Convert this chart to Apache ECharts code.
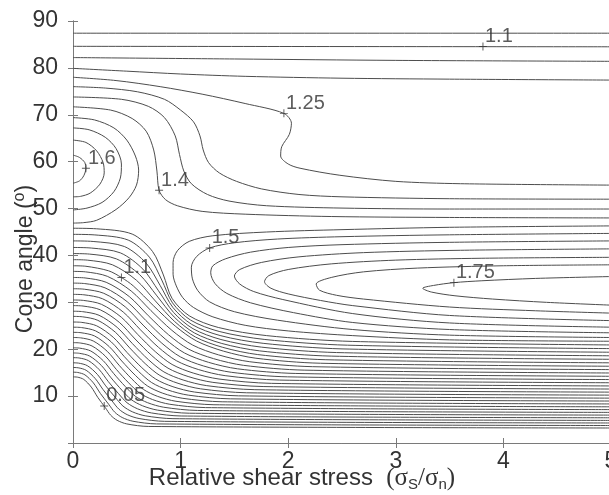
<!DOCTYPE html>
<html>
<head>
<meta charset="utf-8">
<script src="https://cdn.jsdelivr.net/npm/echarts@6/dist/echarts.min.js"></script>
<style>
  html, body { margin: 0; padding: 0; background: #fff; }
  #chart { width: 609px; height: 495px; }
</style>
</head>
<body>
<div id="chart"></div>
<script>
// Axis ticks
const xTicks = [0, 1, 2, 3, 4, 5];
const yTicks = [0, 10, 20, 30, 40, 50, 60, 70, 80, 90];

// Contours that cross the upper part of the field, from the left edge to the right edge
const upperLevels = [1.05, 1.1, 1.15, 1.2, 1.25, 1.3, 1.35, 1.4];
const upperPaths = [
  [[0,87.4],[5,87.4]],
  [[0,84.6],[5,84.5]],
  [[0,82.2],[1.5,81.9],[3,81.6],[5,81.4]],
  [[0,79.9],[0.5,79.3],[1,78.7],[1.6,78.2],[2.5,77.8],[3.5,77.6],[5,77.4]],
  [[0,78.0],[0.4,77.3],[0.81,76.0],[1.2,74.4],[1.6,72.4],[1.96,70.3],[2.03,68.2],[2.01,65.8],[1.94,63.2],[1.93,61.2],[2.0,59.5],[2.11,58.6],[2.48,57.1],[3.0,55.8],[3.6,55.3],[5,55.0]],
  [[0,76.0],[0.3,75.7],[0.6,74.9],[0.85,73.3],[1.0,71.0],[1.12,68.5],[1.18,65.5],[1.21,62.5],[1.26,59.8],[1.36,57.6],[1.52,55.8],[1.75,54.2],[2.1,53.0],[2.5,52.5],[3.5,52.1],[5,52.0]],
  [[0,73.8],[0.45,73.3],[0.7,71.8],[0.85,69.4],[0.95,65.5],[0.99,61.5],[1.03,58],[1.1,55.3],[1.25,53],[1.45,51.6],[1.8,50.6],[2.5,50.1],[3.5,49.9],[5,49.9]],
  [[0,71.7],[0.35,71.0],[0.55,69.2],[0.68,66.5],[0.75,62.5],[0.78,58],[0.80,53.9],[0.86,51.9],[0.97,50.6],[1.2,49.4],[1.6,48.8],[2.4,48.3],[3.5,48.1],[5,48.0]]
];

// Closed contours around the maximum on the left edge (cone angle near 58)
const leftPeakLevels = [1.45, 1.5, 1.55, 1.6];
const leftPeakPaths = [
  [[0,69.4],[0.2,68.9],[0.38,67.2],[0.5,64.6],[0.58,61.2],[0.61,58.2],[0.59,55],[0.52,52.3],[0.4,49.8],[0.22,47.5],[0.1,47.0],[0,46.9]],
  [[0,67.2],[0.15,66.8],[0.3,65.2],[0.4,62.8],[0.45,59.5],[0.44,56.5],[0.38,53.6],[0.27,51.3],[0.13,50.1],[0,49.7]],
  [[0,64.6],[0.12,64.1],[0.22,62.3],[0.28,59.8],[0.29,57.6],[0.25,55.2],[0.16,53.3],[0.07,52.6],[0,52.5]],
  [[0,61.4],[0.06,60.9],[0.11,59.8],[0.12,58.6],[0.1,57.0],[0.06,55.9],[0,55.4]]
];

// Open loops around the maximum near cone angle 33 at high shear stress
const rightPeakLevels = [1.45, 1.5, 1.55, 1.6, 1.65, 1.7, 1.75];
const rightPeakPaths = [
  [[5,46.3],[3.5,46.0],[2.5,45.5],[1.8,45.0],[1.3,44.2],[1.08,43.0],[0.97,41],[0.93,38.5],[0.93,36],[0.96,33.5],[1.02,31],[1.12,28.9],[1.3,26.9],[1.6,25.1],[2.0,23.9],[2.6,22.9],[3.5,22.0],[5,21.7]],
  [[5,44.7],[3.5,44.4],[2.5,44.0],[1.9,43.5],[1.5,42.7],[1.27,41.6],[1.15,39.8],[1.1,37.5],[1.11,35],[1.16,32.5],[1.27,30.1],[1.5,28],[1.9,26.2],[2.6,24.2],[3.5,23.0],[5,22.5]],
  [[5,43.1],[3.5,42.8],[2.5,42.3],[2.0,41.7],[1.65,40.7],[1.42,39.3],[1.3,37.8],[1.28,36.3],[1.32,34],[1.43,31.9],[1.65,29.9],[2.05,27.8],[2.6,25.7],[3.5,24.2],[5,23.5]],
  [[5,41.4],[3.6,41.1],[2.7,40.6],[2.1,39.7],[1.75,38.5],[1.55,37.0],[1.5,35.6],[1.55,33.9],[1.68,32.3],[1.95,30.6],[2.6,27.6],[3.5,25.6],[5,24.7]],
  [[5,39.6],[3.8,39.4],[3.0,39.0],[2.4,38.2],[2.0,37.0],[1.82,35.7],[1.78,34.4],[1.84,33],[2.0,31.8],[2.3,30.4],[2.6,29.3],[3.5,27.2],[5,26.1]],
  [[5,38.0],[4.0,37.8],[3.2,37.3],[2.7,36.5],[2.4,35.3],[2.26,33.9],[2.29,32.6],[2.45,31.5],[2.7,30.7],[3.5,29.0],[4.3,28.2],[5,27.7]],
  [[5,35.5],[4.3,35.1],[3.8,34.6],[3.54,34.2],[3.35,33.6],[3.25,33.0],[3.33,32.2],[3.55,31.4],[3.9,30.7],[4.4,30.0],[5,29.4]]
];

// Dense family in the lower part: from the left edge down to the right edge
const lowerLevels = [0.05,0.1,0.15,0.2,0.25,0.3,0.35,0.4,0.45,0.5,0.55,0.6,0.65,0.7,
                     0.75,0.8,0.85,0.9,0.95,1.0,1.05,1.1,1.15,1.2,1.25,1.3,1.35,1.4];
const lowerPaths = [
  [[0,14.1],[0.04,14.05],[0.10,13.56],[0.17,11.92],[0.23,9.74],[0.30,7.56],[0.35,5.93],[0.41,4.84],[0.50,4.07],[0.70,3.53],[5,3.2]],
  [[0,15.1],[0.044,15.04],[0.111,14.53],[0.189,12.83],[0.255,10.55],[0.331,8.28],[0.388,6.57],[0.457,5.44],[0.557,4.64],[0.776,4.07],[5,3.73]],
  [[0,16.1],[0.048,16.04],[0.122,15.51],[0.207,13.73],[0.28,11.37],[0.362,9.0],[0.426,7.23],[0.504,6.04],[0.614,5.22],[0.852,4.62],[5,4.27]],
  [[0,17.1],[0.051,17.04],[0.133,16.49],[0.226,14.64],[0.304,12.19],[0.393,9.73],[0.464,7.89],[0.551,6.66],[0.671,5.8],[0.929,5.19],[5,4.82]],
  [[0,18.2],[0.055,18.14],[0.144,17.56],[0.244,15.64],[0.329,13.07],[0.424,10.51],[0.502,8.59],[0.599,7.3],[0.729,6.41],[1.005,5.76],[5,5.38]],
  [[0,19.2],[0.059,19.13],[0.155,18.54],[0.263,16.55],[0.354,13.9],[0.455,11.25],[0.541,9.26],[0.646,7.94],[0.786,7.01],[1.081,6.35],[5,5.95]],
  [[0,20.3],[0.063,20.23],[0.166,19.61],[0.281,17.55],[0.379,14.79],[0.486,12.04],[0.579,9.97],[0.693,8.6],[0.843,7.63],[1.157,6.94],[5,6.53]],
  [[0,21.4],[0.067,21.33],[0.177,20.69],[0.3,18.54],[0.403,15.69],[0.517,12.83],[0.617,10.69],[0.74,9.26],[0.9,8.26],[1.233,7.55],[5,7.12]],
  [[0,22.5],[0.07,22.43],[0.188,21.76],[0.319,19.54],[0.428,16.59],[0.548,13.63],[0.655,11.42],[0.787,9.94],[0.957,8.9],[1.31,8.16],[5,7.72]],
  [[0,23.6],[0.074,23.52],[0.199,22.84],[0.337,20.55],[0.453,17.49],[0.579,14.44],[0.693,12.15],[0.834,10.62],[1.014,9.55],[1.386,8.79],[5,8.33]],
  [[0,24.7],[0.078,24.62],[0.21,23.91],[0.356,21.55],[0.478,18.4],[0.61,15.25],[0.731,12.89],[0.881,11.31],[1.071,10.21],[1.462,9.42],[5,8.95]],
  [[0,25.8],[0.082,25.72],[0.22,24.99],[0.374,22.55],[0.502,19.31],[0.64,16.06],[0.769,13.63],[0.929,12.0],[1.129,10.87],[1.538,10.06],[5,9.57]],
  [[0,27.0],[0.086,26.92],[0.231,26.16],[0.393,23.64],[0.527,20.28],[0.671,16.93],[0.807,14.41],[0.976,12.73],[1.186,11.55],[1.614,10.71],[5,10.21]],
  [[0,28.1],[0.09,28.01],[0.242,27.24],[0.411,24.65],[0.552,21.2],[0.702,17.75],[0.845,15.16],[1.023,13.44],[1.243,12.23],[1.69,11.37],[5,10.85]],
  [[0,29.3],[0.093,29.21],[0.253,28.41],[0.43,25.74],[0.577,22.18],[0.733,18.63],[0.883,15.96],[1.07,14.18],[1.3,12.93],[1.767,12.04],[5,11.51]],
  [[0,30.5],[0.097,30.41],[0.264,29.58],[0.449,26.83],[0.601,23.17],[0.764,19.5],[0.921,16.75],[1.117,14.92],[1.357,13.64],[1.843,12.72],[5,12.17]],
  [[0,31.7],[0.101,31.61],[0.275,30.76],[0.467,27.93],[0.626,24.16],[0.795,20.39],[0.96,17.56],[1.164,15.68],[1.414,14.36],[1.919,13.42],[5,12.85]],
  [[0,32.9],[0.105,32.8],[0.286,31.93],[0.486,29.03],[0.651,25.15],[0.826,21.28],[0.998,18.37],[1.211,16.44],[1.471,15.08],[1.995,14.11],[5,13.53]],
  [[0,34.1],[0.109,34.0],[0.297,33.1],[0.504,30.13],[0.676,26.15],[0.857,22.18],[1.036,19.2],[1.259,17.21],[1.529,15.82],[2.071,14.83],[5,14.23]],
  [[0,35.3],[0.112,35.2],[0.308,34.28],[0.523,31.23],[0.7,27.15],[0.888,23.08],[1.074,20.02],[1.306,17.99],[1.586,16.56],[2.148,15.54],[5,14.93]],
  [[0,36.6],[0.116,36.5],[0.319,35.55],[0.541,32.41],[0.725,28.22],[0.919,24.03],[1.112,20.89],[1.353,18.79],[1.643,17.33],[2.224,16.28],[5,15.65]],
  [[0,37.8],[0.12,37.69],[0.33,36.73],[0.45,35.3],[0.56,33.51],[0.75,29.23],[0.95,24.94],[1.15,21.73],[1.4,19.58],[1.7,18.08],[2.3,17.01],[5,16.37]],
  [[0,39.1],[0.137,38.99],[0.367,38.0],[0.59,34.7],[0.765,30.3],[0.945,25.9],[1.138,22.6],[1.392,20.4],[1.717,18.86],[2.35,17.76],[5,17.1]],
  [[0,40.4],[0.153,40.29],[0.403,39.27],[0.62,35.89],[0.78,31.38],[0.94,26.87],[1.127,23.49],[1.383,21.23],[1.733,19.65],[2.4,18.53],[5,17.85]],
  [[0,41.7],[0.17,41.58],[0.44,40.55],[0.65,37.08],[0.795,32.46],[0.935,27.84],[1.115,24.38],[1.375,22.07],[1.75,20.45],[2.45,19.29],[5,18.6]],
  [[0,43.1],[0.187,42.98],[0.477,41.91],[0.68,38.35],[0.81,33.6],[0.93,28.86],[1.103,25.3],[1.367,22.92],[1.767,21.26],[2.5,20.07],[5,19.36]],
  [[0,44.5],[0.203,44.38],[0.513,43.28],[0.71,39.63],[0.825,34.75],[0.925,29.88],[1.092,26.22],[1.358,23.79],[1.783,22.08],[2.55,20.86],[5,20.13]],
  [[0,45.8],[0.22,45.68],[0.55,44.56],[0.74,40.82],[0.84,35.84],[0.92,30.87],[1.08,27.13],[1.35,24.64],[1.8,22.9],[2.6,21.66],[5,20.91]]
];

// Inline contour labels: text and the point on the contour it marks
const labelText = ['1.1', '1.25', '1.6', '1.4', '1.5', '1.1', '1.75', '0.05'];
const labelX    = [3.81, 1.96, 0.12, 0.80, 1.27, 0.45, 3.54, 0.29];
const labelY    = [84.55, 70.3, 58.6, 53.9, 41.6, 35.3, 34.2, 7.9];

const FONT = 'Liberation Sans';
const SERIF = 'Liberation Serif';
const TEXT = '#333';
const AXIS = '#7a7a7a';
const LINE = '#4d4d4d';

function contourSeries(paths, levels, tag) {
  return paths.map((path, i) => ({
    type: 'line',
    name: tag + levels[i],
    data: path,
    smooth: 0.3,
    symbol: 'none',
    silent: true,
    clip: true,
    lineStyle: { color: LINE, width: 1 },
    z: 2
  }));
}

const series = []
  .concat(contourSeries(upperPaths, upperLevels, 'u'))
  .concat(contourSeries(leftPeakPaths, leftPeakLevels, 'l'))
  .concat(contourSeries(rightPeakPaths, rightPeakLevels, 'r'))
  .concat(contourSeries(lowerPaths, lowerLevels, 'd'));

// '+' marks with the level text to their upper right
series.push({
  type: 'scatter',
  name: 'labels',
  silent: true,
  symbol: 'path://M0,4.4H10V5.6H0Z M4.4,0H5.6V10H4.4Z',
  symbolSize: 8,
  itemStyle: { color: '#333' },
  data: labelText.map((t, i) => ({ value: [labelX[i], labelY[i]], name: t })),
  label: {
    show: true,
    formatter: p => p.name,
    position: [6, 4],
    align: 'left',
    verticalAlign: 'bottom',
    color: TEXT,
    fontFamily: FONT,
    fontSize: 20
  },
  z: 5
});

const baseX = {
  type: 'value', min: xTicks[0], max: xTicks[xTicks.length - 1], interval: 1,
  axisLine: { lineStyle: { color: AXIS, width: 1 } },
  axisTick: { inside: true, length: 5, lineStyle: { color: AXIS } },
  splitLine: { show: false }
};
const baseY = {
  type: 'value', min: yTicks[0], max: yTicks[yTicks.length - 1], interval: 10,
  axisLine: { lineStyle: { color: AXIS, width: 1 } },
  axisTick: { inside: true, length: 5, lineStyle: { color: AXIS } },
  splitLine: { show: false }
};

const option = {
  animation: false,
  backgroundColor: '#fff',
  grid: { left: 73, top: 21, width: 538, height: 422, containLabel: false, outerBoundsMode: 'none' },
  xAxis: [
    Object.assign({}, baseX, {
      position: 'bottom',
      axisLabel: { color: TEXT, fontFamily: FONT, fontSize: 23, margin: 7 }
    }),
    Object.assign({}, baseX, { position: 'top', axisLabel: { show: false } })
  ],
  yAxis: [
    Object.assign({}, baseY, {
      position: 'left',
      axisLabel: { color: TEXT, fontFamily: FONT, fontSize: 23, margin: 15,
                   formatter: v => (v === 0 ? '' : String(v)) }
    }),
    Object.assign({}, baseY, { position: 'right', axisLabel: { show: false } })
  ],
  graphic: [
    {
      type: 'text',
      x: 302, y: 478,
      silent: true,
      style: {
        text: '{a|Relative shear stress  }{g|(σ}{s|S}{g|/σ}{s|n}{g|)}',
        align: 'center', verticalAlign: 'middle',
        fill: TEXT, fontFamily: FONT, fontSize: 24,
        rich: {
          a: { fontFamily: FONT, fontSize: 24, fill: TEXT, lineHeight: 28, verticalAlign: 'middle' },
          g: { fontFamily: SERIF, fontSize: 25, fill: TEXT, lineHeight: 28, verticalAlign: 'middle' },
          s: { fontFamily: FONT, fontSize: 15, fill: TEXT, lineHeight: 16, verticalAlign: 'bottom' }
        }
      }
    },
    {
      type: 'text',
      x: 26, y: 259,
      rotation: Math.PI / 2,
      silent: true,
      style: {
        text: '{a|Cone angle (}{o|o}{a|)}',
        align: 'center', verticalAlign: 'middle',
        fill: TEXT, fontFamily: FONT, fontSize: 23,
        rich: {
          a: { fontFamily: FONT, fontSize: 23, fill: TEXT, lineHeight: 28, verticalAlign: 'middle' },
          o: { fontFamily: FONT, fontSize: 16, fill: TEXT, lineHeight: 18, verticalAlign: 'top' }
        }
      }
    }
  ],
  series: series
};

const chart = echarts.init(document.getElementById('chart'), null, { renderer: 'canvas' });
chart.setOption(option);
</script>
</body>
</html>
